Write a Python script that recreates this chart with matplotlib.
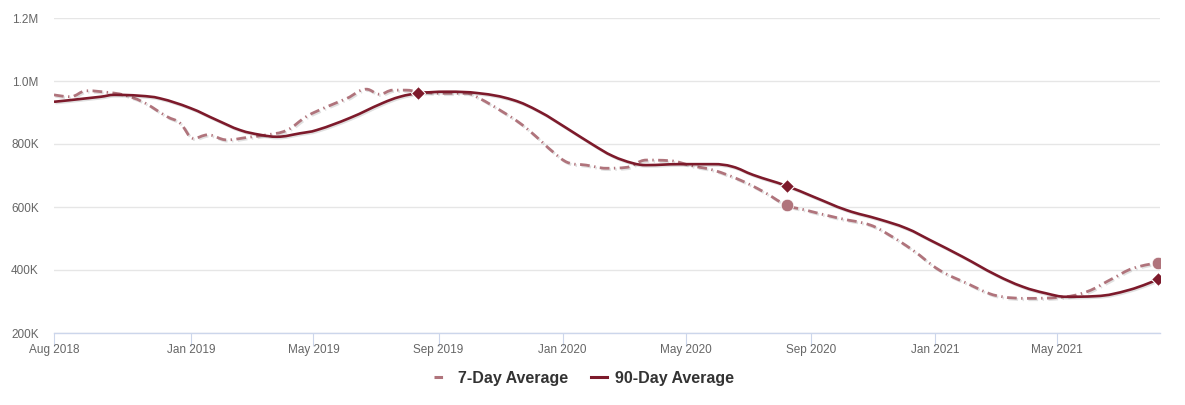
import numpy as np
import pandas as pd
import matplotlib
matplotlib.use("Agg")
import matplotlib.pyplot as plt
import matplotlib.dates as mdates
import matplotlib.patheffects as pe
from matplotlib.lines import Line2D
from matplotlib.path import Path
from matplotlib.patches import PathPatch

plt.rcParams['font.family'] = ['Liberation Sans', 'DejaVu Sans']

# 7-day average (values in thousands)
dates_7 = ["2018-08-19", "2018-09-04", "2018-09-20", "2018-10-13", "2018-10-26", "2018-11-14",
           "2018-12-08", "2018-12-21", "2019-01-03", "2019-01-17", "2019-02-05", "2019-02-25",
           "2019-03-16", "2019-04-05", "2019-04-24", "2019-05-14", "2019-06-03", "2019-06-22",
           "2019-07-05", "2019-07-18", "2019-07-31", "2019-08-12", "2019-09-02", "2019-09-28",
           "2019-10-11", "2019-10-31", "2019-11-20", "2019-12-06", "2019-12-22", "2020-01-06",
           "2020-01-24", "2020-02-13", "2020-03-04", "2020-03-23", "2020-04-15", "2020-05-08",
           "2020-05-28", "2020-06-23", "2020-07-16", "2020-08-08", "2020-08-27", "2020-09-29",
           "2020-10-29", "2020-11-17", "2020-12-10", "2021-01-05", "2021-02-01", "2021-02-27",
           "2021-04-04", "2021-05-03", "2021-05-30", "2021-06-25", "2021-07-14", "2021-08-08"]
avg_7 = [956, 950, 969, 963, 956, 934,
         887, 866, 818, 829, 813, 821,
         829, 844, 887, 918, 945, 974,
         958, 971, 971, 966, 961, 961,
         945, 908, 866, 823, 776, 741,
         733, 723, 726, 749, 747, 730,
         717, 686, 649, 606, 590, 564,
         543, 511, 463, 400, 358, 321,
         310, 313, 331, 374, 405, 423]

# 90-day average (values in thousands)
dates_90 = ["2018-08-19", "2018-10-04", "2018-10-17", "2018-11-12", "2018-12-01", "2018-12-31",
            "2019-01-26", "2019-02-18", "2019-03-10", "2019-03-26", "2019-04-18", "2019-05-04",
            "2019-06-06", "2019-07-08", "2019-07-25", "2019-08-12", "2019-09-09", "2019-10-11",
            "2019-11-13", "2019-12-09", "2020-01-05", "2020-01-31", "2020-02-19", "2020-03-10",
            "2020-03-23", "2020-04-25", "2020-05-28", "2020-06-16", "2020-07-06", "2020-08-08",
            "2020-09-03", "2020-10-06", "2020-11-07", "2020-12-04", "2020-12-27", "2021-01-28",
            "2021-03-02", "2021-03-28", "2021-04-20", "2021-05-10", "2021-06-08", "2021-07-11",
            "2021-08-08"]
avg_90 = [934, 950, 956, 953, 945, 914,
          876, 844, 829, 823, 834, 844,
          883, 930, 950, 961, 966, 961,
          940, 903, 850, 797, 762, 739,
          733, 736, 736, 728, 702, 667,
          633, 590, 561, 532, 495, 442,
          384, 347, 326, 315, 317, 337,
          370]

marks_7 = ["2020-08-08", "2021-08-08"]
marks_90 = ["2019-08-12", "2020-08-08", "2021-08-08"]

tick_dates = ["2018-08-19", "2019-01-01", "2019-05-01", "2019-09-01", "2020-01-01",
              "2020-05-01", "2020-09-01", "2021-01-01", "2021-05-01"]
tick_labels = ["Aug 2018", "Jan 2019", "May 2019", "Sep 2019", "Jan 2020",
               "May 2020", "Sep 2020", "Jan 2021", "May 2021"]
y_ticks = [200, 400, 600, 800, 1000, 1200]
y_labels = ["200K", "400K", "600K", "800K", "1.0M", "1.2M"]

c7 = "#b0747c"
c90 = "#7d1a2b"


def spline_path(x, y, smoothing=1.5):
    # bezier spline through the points, same idea as a highcharts "spline" series
    n = len(x)
    denom = smoothing + 1
    left = [(x[i], y[i]) for i in range(n)]
    right = [(x[i], y[i]) for i in range(n)]
    for i in range(1, n - 1):
        lcx = (smoothing * x[i] + x[i - 1]) / denom
        lcy = (smoothing * y[i] + y[i - 1]) / denom
        rcx = (smoothing * x[i] + x[i + 1]) / denom
        rcy = (smoothing * y[i] + y[i + 1]) / denom
        if rcx != lcx:
            corr = (rcy - lcy) * (rcx - x[i]) / (rcx - lcx) + y[i] - rcy
            lcy += corr
            rcy += corr
        if lcy > y[i - 1] and lcy > y[i]:
            lcy = max(y[i - 1], y[i]); rcy = 2 * y[i] - lcy
        elif lcy < y[i - 1] and lcy < y[i]:
            lcy = min(y[i - 1], y[i]); rcy = 2 * y[i] - lcy
        if rcy > y[i + 1] and rcy > y[i]:
            rcy = max(y[i + 1], y[i]); lcy = 2 * y[i] - rcy
        elif rcy < y[i + 1] and rcy < y[i]:
            rcy = min(y[i + 1], y[i]); lcy = 2 * y[i] - rcy
        left[i] = (lcx, lcy)
        right[i] = (rcx, rcy)
    verts = [(x[0], y[0])]
    codes = [Path.MOVETO]
    for i in range(1, n):
        verts += [right[i - 1], left[i], (x[i], y[i])]
        codes += [Path.CURVE4] * 3
    return Path(verts, codes)


d7 = pd.to_datetime(dates_7)
d90 = pd.to_datetime(dates_90)
x7 = mdates.date2num(d7)
x90 = mdates.date2num(d90)
v7 = np.array(avg_7) * 1000.0
v90 = np.array(avg_90) * 1000.0
idx7 = [dates_7.index(d) for d in marks_7]
idx90 = [dates_90.index(d) for d in marks_90]

fig = plt.figure(figsize=(11.85, 4.05), dpi=100)
ax = fig.add_axes([54/1185, 1 - 333/405, (1160 - 54)/1185, (333 - 18)/405])
ax.xaxis_date()

shadow = [pe.SimpleLineShadow(offset=(1, -1), alpha=0.12, shadow_color='k'), pe.Normal()]

ax.add_patch(PathPatch(spline_path(x7, v7), fill=False, edgecolor=c7, lw=2.0,
                       linestyle=(0, (3.5, 1.6, 0.5, 1.6)), path_effects=shadow, zorder=3))
ax.add_patch(PathPatch(spline_path(x90, v90), fill=False, edgecolor=c90, lw=1.9,
                       path_effects=shadow, zorder=4))

ax.plot(x7[idx7], v7[idx7], 'o', color=c7, ms=9, mec='white', mew=0.5, zorder=5)
ax.plot(x90[idx90], v90[idx90], 'D', color=c90, ms=7, mec='white', mew=0.8, zorder=6)

ax.set_xlim(mdates.date2num(pd.Timestamp("2018-08-19")), mdates.date2num(pd.Timestamp("2021-08-10")))
ax.set_ylim(200000, 1200000)

ax.set_xticks(mdates.date2num(pd.to_datetime(tick_dates)))
ax.set_xticklabels(tick_labels)
ax.set_yticks(np.array(y_ticks) * 1000)
ax.set_yticklabels(y_labels)

ax.grid(axis='y', color='#e6e6e6', lw=1)
ax.set_axisbelow(True)
for s in ['top', 'right', 'left']:
    ax.spines[s].set_visible(False)
ax.spines['bottom'].set_color('#ccd6eb')
ax.spines['bottom'].set_linewidth(1)

ax.tick_params(axis='x', length=9, color='#ccd6eb', labelsize=8.5, labelcolor='#666666', pad=-1)
ax.tick_params(axis='y', length=0, labelsize=8.5, labelcolor='#666666', pad=11)

# legend: 7-day symbol is a single short dash
handles = [Line2D([], [], color=c7, lw=2.2, linestyle=(1.2, (4, 12))),
           Line2D([], [], color=c90, lw=2.2)]
leg = fig.legend(handles, ["7-Day Average", "90-Day Average"], loc='center',
                 bbox_to_anchor=(584/1185, 1 - 378/405), ncol=2, frameon=False,
                 handlelength=1.0, handletextpad=0.5, columnspacing=1.4,
                 prop={'weight': 'bold', 'size': 11.5})
for t in leg.get_texts():
    t.set_color('#333333')

fig.savefig("out.png", dpi=100, facecolor='white')
